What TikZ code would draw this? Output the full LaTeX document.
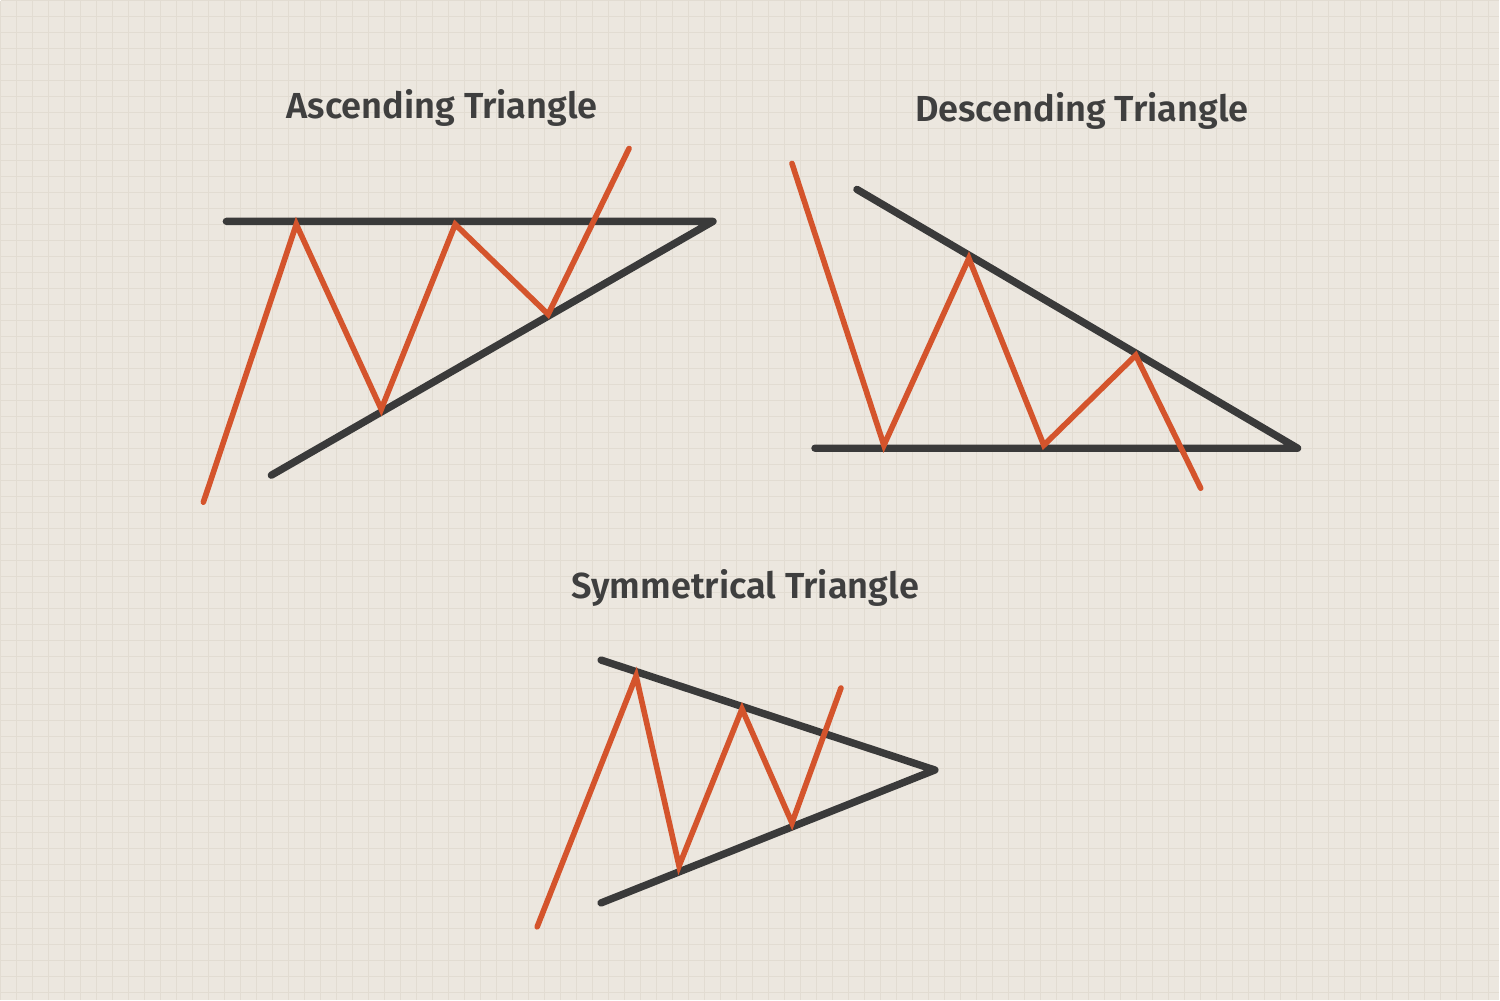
\documentclass[tikz,border=0pt]{standalone}
\usepackage{fontspec}
\setmainfont{Fira Sans}[BoldFont={* SemiBold}]
\usepackage{tikz}
\definecolor{paper}{HTML}{ECE7DF}
\definecolor{paperline}{HTML}{E2DCD2}
\definecolor{trend}{HTML}{3A3A3A}
\definecolor{price}{HTML}{D4542C}
\definecolor{titlegray}{HTML}{3F3F3F}
\newcommand\DrawTitle[3]{
  \node[title] (#1) at #2 {#3};
}

\begin{document}
\begin{tikzpicture}[x=0.01cm,y=-0.01cm,
  title/.style={font=\bfseries\fontsize{10.3}{12}\selectfont,text=titlegray,inner sep=0pt},
  bound/.style={trend,line width=2.1pt,line cap=round,line join=round},
  move/.style={price,line width=1.6pt,line join=miter,line cap=round}]
\fill[paper] (0,0) rectangle (1500,1000);
\draw[paperline,line width=0.3pt,xstep=0.16cm,ystep=0.16cm] (0,0) grid (1500,1000);
\useasboundingbox (0,0) rectangle (1500,1000);
% ascending
\DrawTitle{asc}{(442,107)}{Ascending Triangle}
\draw[bound] (226,221) -- (713,221) -- (271,475);
\draw[move] (203,502) -- (296,224) -- (381,409) -- (455,224) -- (548,314) -- (629,148);
% descending
\DrawTitle{desc}{(1082,110)}{Descending Triangle}
\draw[bound] (857,189) -- (1298,448) -- (815,448);
\draw[move] (792,163) -- (884,445) -- (969,258) -- (1044,445) -- (1136,355) -- (1201,488);
% symmetrical
\DrawTitle{sym}{(745,588)}{Symmetrical Triangle}
\draw[bound] (601,660) -- (935,770) -- (601,903);
\draw[move] (537,927) -- (636,676) -- (679,866) -- (742,709) -- (792,823) -- (841,688);
\end{tikzpicture}
\end{document}
